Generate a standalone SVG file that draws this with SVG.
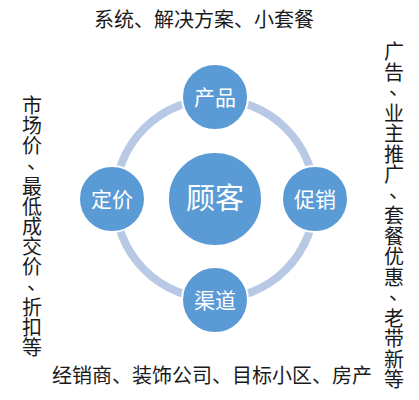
<svg xmlns="http://www.w3.org/2000/svg" width="419" height="400" viewBox="0 0 419 400">
<style>
.node{fill:#5b9bd5;stroke:#ffffff;stroke-width:2}
.lbl{font-family:"Noto Sans CJK SC","Noto Sans",sans-serif;fill:#ffffff;text-anchor:middle}
.txt{font-family:"Noto Sans CJK SC","Noto Sans",sans-serif;fill:#1a1a1a;font-size:20px}
.v{text-anchor:middle}
</style>
<rect width="419" height="400" fill="#ffffff"/>
<g id="connectors">
<circle cx="215" cy="199" r="100" fill="none" stroke="#b8c9e6" stroke-width="8"/>
</g>
<g id="customer"><circle class="node" cx="215" cy="199" r="47"/><text class="lbl" x="215" y="209" font-size="29">顾客</text></g>
<g id="product"><circle class="node" cx="215" cy="97" r="33"/><text class="lbl" x="215" y="104.5" font-size="21">产品</text></g>
<g id="promotion"><circle class="node" cx="315" cy="199" r="33"/><text class="lbl" x="315" y="206.5" font-size="21">促销</text></g>
<g id="pricing"><circle class="node" cx="112" cy="199" r="33"/><text class="lbl" x="112" y="206.5" font-size="21">定价</text></g>
<g id="channel"><circle class="node" cx="215" cy="300" r="33"/><text class="lbl" x="215" y="307.5" font-size="21">渠道</text></g>
<g id="top-text"><text class="txt" x="204" y="27" text-anchor="middle">系统、解决方案、小套餐</text></g>
<g id="bottom-text"><text class="txt" x="52" y="383" font-size="20.3">经销商、装饰公司、目标小区、房产</text></g>
<g id="left-text"><text class="txt v" x="32 32 32 37 32 32 32 32 32 37 32 32 32" y="113 133.2 153.3 168.5 193.7 213.8 234 254.2 274.3 289.5 314.7 334.8 355">市场价、最低成交价、折扣等</text></g>
<g id="right-text"><text class="txt v" x="394 394 399 394 394 394 394 399 394 394 394 394 399 394 394 394 394" y="59 79.5 95 120.5 141 161.5 182 197.5 223 243.5 264 284.5 300 325.5 346 366.5 387">广告、业主推广、套餐优惠、老带新等</text></g>
</svg>
